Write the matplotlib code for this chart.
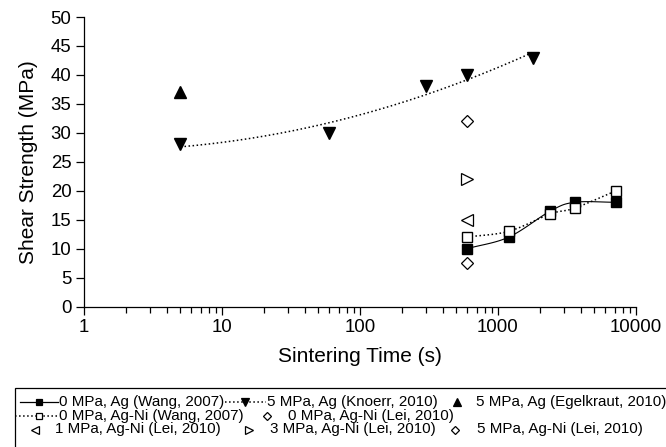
import numpy as np
import matplotlib.pyplot as plt
from matplotlib.lines import Line2D
from matplotlib.patches import Rectangle

plt.rcParams['font.family'] = ['Liberation Sans', 'DejaVu Sans']

# data
wang_ag_t = [600, 1200, 2400, 3600, 7200]
wang_ag_y = [10, 12, 16.5, 18, 18]
wang_agni_t = [600, 1200, 2400, 3600, 7200]
wang_agni_y = [12, 13, 16, 17, 20]
knoerr_t = [5, 60, 300, 600, 1800]
knoerr_y = [28, 30, 38, 40, 43]
egel_t = [5]
egel_y = [37]
lei0_t, lei0_y = [600], [7.5]
lei1_t, lei1_y = [600], [15]
lei3_t, lei3_y = [600], [22]
lei5_t, lei5_y = [600], [32]

labels = ["0 MPa, Ag (Wang, 2007)", "5 MPa, Ag (Knoerr, 2010)",
          "5 MPa, Ag (Egelkraut, 2010)", "0 MPa, Ag-Ni (Wang, 2007)",
          "0 MPa, Ag-Ni (Lei, 2010)", "1 MPa, Ag-Ni (Lei, 2010)",
          "3 MPa, Ag-Ni (Lei, 2010)", "5 MPa, Ag-Ni (Lei, 2010)"]


def smooth(t, y, n=30):
    # catmull-rom through the points, in log-x space
    u = np.log10(t)
    y = np.asarray(y, float)
    P = np.column_stack([u, y])
    P = np.vstack([P[0] - (P[1] - P[0]), P, P[-1] + (P[-1] - P[-2])])
    out = []
    s = np.linspace(0, 1, n)[:, None]
    for i in range(1, len(P) - 2):
        p0, p1, p2, p3 = P[i - 1], P[i], P[i + 1], P[i + 2]
        c = 0.5 * ((2 * p1) + (-p0 + p2) * s + (2 * p0 - 5 * p1 + 4 * p2 - p3) * s**2
                   + (-p0 + 3 * p1 - 3 * p2 + p3) * s**3)
        out.append(c)
    c = np.vstack(out)
    return 10 ** c[:, 0], c[:, 1]


fig = plt.figure(figsize=(6.66, 4.47), dpi=100)
ax = fig.add_axes([84 / 666, 1 - 306.5 / 447, (636 - 84) / 666, (306.5 - 17) / 447])

# Knoerr trendline (quadratic in log t)
cf = np.polyfit(np.log10(knoerr_t), knoerr_y, 2)
tt = np.logspace(np.log10(knoerr_t[0]), np.log10(knoerr_t[-1]), 200)
ax.plot(tt, np.polyval(cf, np.log10(tt)), color='k', ls=':', lw=1.1)

xs, ys = smooth(wang_ag_t, wang_ag_y)
ax.plot(xs, ys, color='k', lw=0.8)
xs, ys = smooth(wang_agni_t, wang_agni_y)
ax.plot(xs, ys, color='k', ls=':', lw=1.1)

ax.plot(knoerr_t, knoerr_y, 'v', color='k', ms=8, ls='none')
ax.plot(egel_t, egel_y, '^', color='k', ms=8, ls='none')
ax.plot(wang_ag_t, wang_ag_y, 's', color='k', ms=7, ls='none')
ax.plot(wang_agni_t, wang_agni_y, 's', mfc='white', mec='k', mew=1, ms=7, ls='none')
ax.plot(lei0_t, lei0_y, 'D', mfc='white', mec='k', mew=0.9, ms=6.5, ls='none')
ax.plot(lei5_t, lei5_y, 'D', mfc='white', mec='k', mew=0.9, ms=6.5, ls='none')
ax.plot(lei1_t, lei1_y, '<', mfc='white', mec='k', mew=0.9, ms=8, ls='none')
ax.plot(lei3_t, lei3_y, '>', mfc='white', mec='k', mew=0.9, ms=8, ls='none')

ax.set_xscale('log')
ax.set_xlim(1, 10000)
ax.set_ylim(0, 50)
ax.set_yticks(np.arange(0, 51, 5))
ax.set_xticks([1, 10, 100, 1000, 10000])
ax.set_xticklabels(['1', '10', '100', '1000', '10000'])
ax.spines['top'].set_visible(False)
ax.spines['right'].set_visible(False)
for s in ['left', 'bottom']:
    ax.spines[s].set_linewidth(0.9)
ax.tick_params(which='major', direction='out', length=6, width=0.9, labelsize=13.4, pad=3)
ax.tick_params(which='minor', direction='out', length=4, width=0.9)
ax.tick_params(axis='y', which='minor', left=False)
ax.set_xlabel('Sintering Time (s)', fontsize=15, labelpad=8)
ax.set_ylabel('Shear Strength (MPa)', fontsize=15, labelpad=9)

# legend drawn by hand (rows with uneven spacing)
W, H = 666, 447


def fx(px):
    return px / W


def fy(py):
    return 1 - py / H


fig.add_artist(Rectangle((fx(15), fy(460)), fx(700 - 15), (460 - 387.7) / H,
                         transform=fig.transFigure, fill=False, ec='k', lw=0.9))


def entry(x0, x1, xm, xt, y, text, ls, marker, filled, ms):
    if ls != 'none':
        fig.add_artist(Line2D([fx(x0), fx(x1)], [fy(y), fy(y)], transform=fig.transFigure,
                              color='k', ls=ls, lw=0.9 if ls == '-' else 1.1))
    fig.add_artist(Line2D([fx(xm)], [fy(y)], transform=fig.transFigure, ls='none',
                          marker=marker, ms=ms, mec='k', mew=0.9,
                          mfc='k' if filled else 'white'))
    fig.text(fx(xt), fy(y), text, fontsize=10.9, ha='left', va='center')


entry(20, 58, 39, 59, 401.7, labels[0], '-', 's', True, 5)
entry(225, 266, 245, 267, 401.7, labels[1], ':', 'v', True, 6)
entry(0, 0, 457, 476, 401.7, labels[2], 'none', '^', True, 6)
entry(15, 58, 39, 59, 415.7, labels[3], ':', 's', False, 5)
entry(0, 0, 267, 288, 415.7, labels[4], 'none', 'D', False, 4.2)
entry(0, 0, 35, 55, 429.5, labels[5], 'none', '<', False, 6)
entry(0, 0, 249, 270, 429.5, labels[6], 'none', '>', False, 6)
entry(0, 0, 455, 477, 429.5, labels[7], 'none', 'D', False, 4.2)

fig.savefig('out.png', dpi=100)
